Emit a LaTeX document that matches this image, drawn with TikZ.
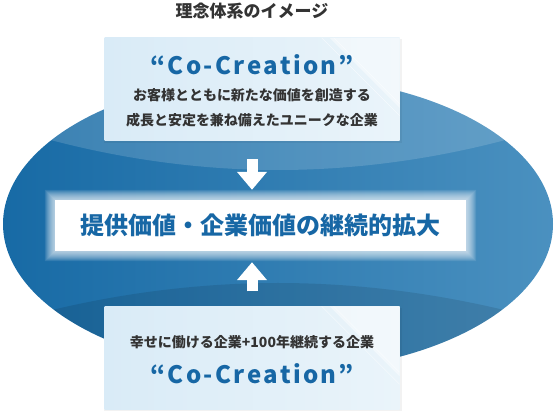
\documentclass[tikz,border=0pt]{standalone}
\usepackage{fontspec}
\setmainfont{Noto Sans CJK JP}
\newfontfamily\cocfont{Noto Sans CJK JP}[LetterSpace=10]
\usetikzlibrary{arrows.meta}
\definecolor{ovalL}{HTML}{176AA5}
\definecolor{ovalR}{HTML}{4B91C0}
\definecolor{boxL}{HTML}{D9EBF7}
\definecolor{boxR}{HTML}{EAF4FA}
\definecolor{txtblue}{HTML}{1767A5}
\definecolor{txtgray}{HTML}{333333}

\begin{document}
\begin{tikzpicture}[x=1pt,y=-1pt,
  glassbox/.style={minimum width=295pt,minimum height=103pt,inner sep=0pt,left color=boxL,right color=boxR},
  coc/.style={font=\cocfont\bfseries\fontsize{24}{28}\selectfont,text=txtblue},
  jpline/.style={font=\bfseries\fontsize{14}{25}\selectfont,text=txtgray,align=center},
  fatarrow/.style={draw=white,line width=11pt,-{Triangle[length=18pt,width=29pt]}}]
\useasboundingbox (0,0) rectangle (558,414);
\node[font=\bfseries\fontsize{17}{20}\selectfont,text=txtgray] (title) at (252,11) {理念体系のイメージ};
\begin{scope}\clip (278,224) ellipse [x radius=275,y radius=148];
\shade[left color=ovalL,right color=ovalR] (0,70) rectangle (558,380);
\fill[white,opacity=.15] (0,70) -- (0,125) parabola bend (278,170) (556,125) -- (558,70) -- cycle;
\fill[black,opacity=.1] (0,380) -- (0,324) parabola bend (278,283) (556,324) -- (558,380) -- cycle;\end{scope}
\foreach \b/\y in {upper/89.5,lower/358}{\fill[black,opacity=.05] (103.5,\y-50) rectangle (401.5,\y+53.5);
\node[glassbox] (\b) at (252,\y) {};
\begin{scope}\clip (\b.north west) rectangle (\b.south east);
\fill[white,opacity=.45] ([xshift=-70pt]\b.north east) -- (\b.north east) -- ([yshift=-70pt]\b.north east) -- cycle;
\draw[white,opacity=.7] ([xshift=-78pt]\b.north east) -- ([yshift=-78pt]\b.north east) ([xshift=-66pt]\b.north east) -- ([yshift=-66pt]\b.north east);\end{scope}}
\node[coc] (upco) at (252,65) {“Co-Creation”};
\node[jpline] (upmsg) at (252,108) {お客様とともに新たな価値を創造する\\成長と安定を兼ね備えたユニークな企業};
\node[jpline] (lowmsg) at (252,342) {幸せに働ける企業+100年継続する企業};
\node[coc] (lowco) at (252,374) {“Co-Creation”};
\node[fill=white,minimum width=411pt,minimum height=51pt,font=\bfseries\fontsize{24}{28}\selectfont,text=txtblue] (core) at (260.5,225.5) {提供価値・企業価値の継続的拡大};
\foreach \g in {1,...,10}{\fill[white,opacity=.1,even odd rule] ([shift={(-\g,-\g)}]core.north west) rectangle ([shift={(\g,\g)}]core.south east) (core.north west) rectangle (core.south east);}
\draw[fatarrow,shorten <=18pt,shorten >=10pt] (upper.south) -- (upper.south |- core.north);
\draw[fatarrow,shorten <=15pt,shorten >=11pt] (lower.north) -- (lower.north |- core.south);
\end{tikzpicture}
\end{document}
